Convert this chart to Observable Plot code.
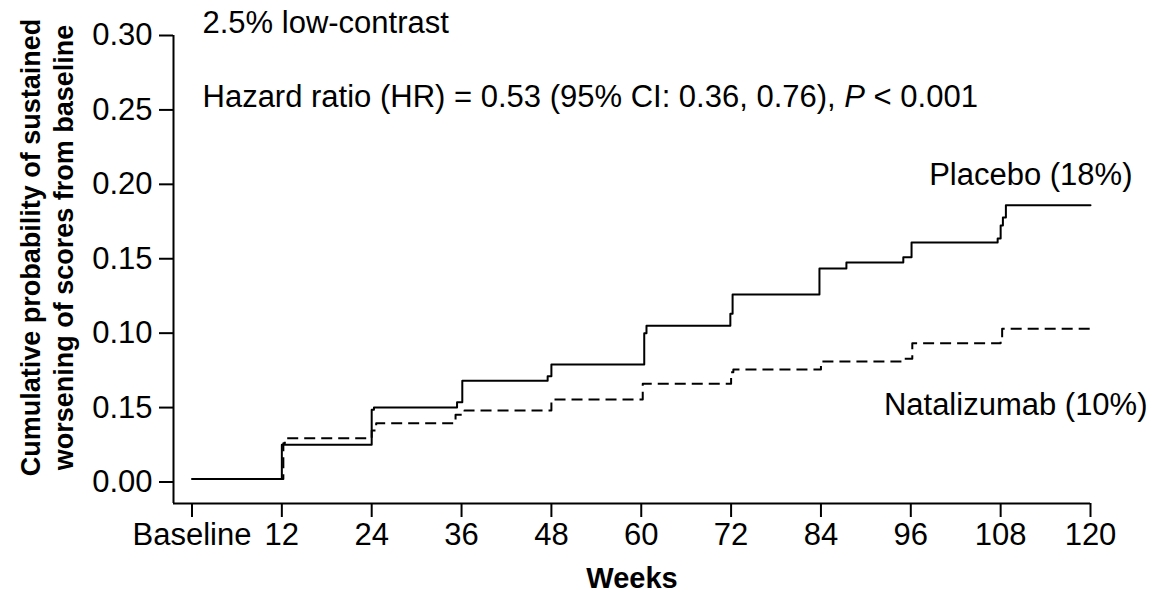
<!DOCTYPE html>
<html>
<head>
<meta charset="utf-8">
<script src="https://cdn.jsdelivr.net/npm/d3@7"></script>
<script src="https://cdn.jsdelivr.net/npm/@observablehq/plot@0.6"></script>
<style>
  body { margin: 0; background: #fff; }
  #chart svg { display: block; }
</style>
</head>
<body>
<div id="chart"></div>
<script>
// ---- Data ----
const placeboWeeks = [0, 12, 24, 24.3, 35.4, 36.1, 47.5, 48, 60.4, 60.7, 71.9, 72.2, 83.8, 87.4, 95, 96.1, 107.6, 108, 108.3, 108.7, 120];
const placeboProb  = [0.002, 0.025, 0.0485, 0.050, 0.0536, 0.068, 0.071, 0.079, 0.100, 0.105, 0.113, 0.126, 0.1435, 0.1475, 0.151, 0.161, 0.1636, 0.1724, 0.1777, 0.186, 0.186];

const natalizumabWeeks = [0, 12.2, 12.4, 24, 24.6, 35.2, 36.4, 48, 60.2, 72, 72.3, 84, 94.9, 96.2, 108, 108.2, 120];
const natalizumabProb  = [0.002, 0.026, 0.0294, 0.0346, 0.0395, 0.0452, 0.048, 0.0554, 0.066, 0.0738, 0.0756, 0.081, 0.0828, 0.0933, 0.095, 0.103, 0.103];

const xTickValues = [0, 12, 24, 36, 48, 60, 72, 84, 96, 108, 120];
const xTickLabels = ["Baseline", "12", "24", "36", "48", "60", "72", "84", "96", "108", "120"];
const yTickValues = [0, 0.05, 0.10, 0.15, 0.20, 0.25, 0.30];
const yTickLabels = ["0.00", "0.15", "0.10", "0.15", "0.20", "0.25", "0.30"];

const seriesNames = ["Placebo (18%)", "Natalizumab (10%)"];
const titleText = "2.5% low-contrast";
const hrText = "Hazard ratio (HR) = 0.53 (95% CI: 0.36, 0.76), P < 0.001";
const xLabel = "Weeks";
const yLabel1 = "Cumulative probability of sustained";
const yLabel2 = "worsening of scores from baseline";

// ---- Build tables ----
const placebo = placeboWeeks.map((w, i) => ({week: w, prob: placeboProb[i]}));
const natalizumab = natalizumabWeeks.map((w, i) => ({week: w, prob: natalizumabProb[i]}));

const xDomain = [-2.47, 120];
const yDomain = [-0.01445, 0.30];
const font = "'Liberation Sans', Arial, Helvetica, sans-serif";
const fs = 31;

const chart = Plot.plot({
  width: 1155,
  height: 596,
  marginLeft: 173,
  marginRight: 65,
  marginTop: 35,
  marginBottom: 93,
  style: {fontFamily: font, fontSize: fs + "px", color: "#000", background: "#fff", overflow: "visible"},
  x: {domain: xDomain},
  y: {domain: yDomain},
  marks: [
    Plot.ruleX([xDomain[0]], {y1: yDomain[0], y2: 0.30, stroke: "#000", strokeWidth: 2}),
    Plot.ruleY([yDomain[0]], {x1: xDomain[0], x2: 120, stroke: "#000", strokeWidth: 2}),
    Plot.axisX({
      ticks: xTickValues,
      tickFormat: (d) => xTickLabels[xTickValues.indexOf(d)],
      tickSize: 14, tickPadding: 5, strokeWidth: 2,
      fontSize: fs, label: null
    }),
    Plot.axisY({
      ticks: yTickValues,
      tickFormat: (d) => yTickLabels[yTickValues.findIndex(v => Math.abs(v - d) < 1e-9)],
      tickSize: 14, tickPadding: 7, strokeWidth: 2,
      fontSize: fs, label: null
    }),
    Plot.line(placebo, {x: "week", y: "prob", curve: "step-after", stroke: "#000", strokeWidth: 2}),
    Plot.line(natalizumab, {x: "week", y: "prob", curve: "step-after", stroke: "#000", strokeWidth: 2, strokeDasharray: "11,6", strokeLinecap: "butt"}),
    Plot.text([seriesNames[0]], {x: 120, y: 0.206, dx: 42, textAnchor: "end", fontSize: fs}),
    Plot.text([seriesNames[1]], {x: 120, y: 0.0514, dx: 57, textAnchor: "end", fontSize: fs}),
    Plot.text([titleText], {frameAnchor: "top-left", dx: 29, dy: -12, textAnchor: "start", lineAnchor: "middle", fontSize: fs}),
    Plot.text([hrText], {frameAnchor: "top-left", dx: 29, dy: 62, textAnchor: "start", lineAnchor: "middle", fontSize: fs}),
    Plot.text([xLabel], {frameAnchor: "bottom", dy: 75, textAnchor: "middle", lineAnchor: "middle", fontSize: 29, fontWeight: "bold"}),
    Plot.text([yLabel1], {frameAnchor: "left", dx: -142, dy: -22, rotate: -90, textAnchor: "middle", lineAnchor: "middle", fontSize: 27, fontWeight: "bold"}),
    Plot.text([yLabel2], {frameAnchor: "left", dx: -109, dy: -22, rotate: -90, textAnchor: "middle", lineAnchor: "middle", fontSize: 27, fontWeight: "bold"})
  ]
});

document.getElementById("chart").appendChild(chart);

// italic P in the hazard-ratio line
d3.select(chart).selectAll("text")
  .filter(function () { return this.textContent === hrText; })
  .each(function () {
    const t = d3.select(this);
    const parts = hrText.split(", P ");
    t.text(null);
    t.append("tspan").text(parts[0] + ", ");
    t.append("tspan").attr("font-style", "italic").text("P");
    t.append("tspan").text(" " + parts[1]);
  });
</script>
</body>
</html>
